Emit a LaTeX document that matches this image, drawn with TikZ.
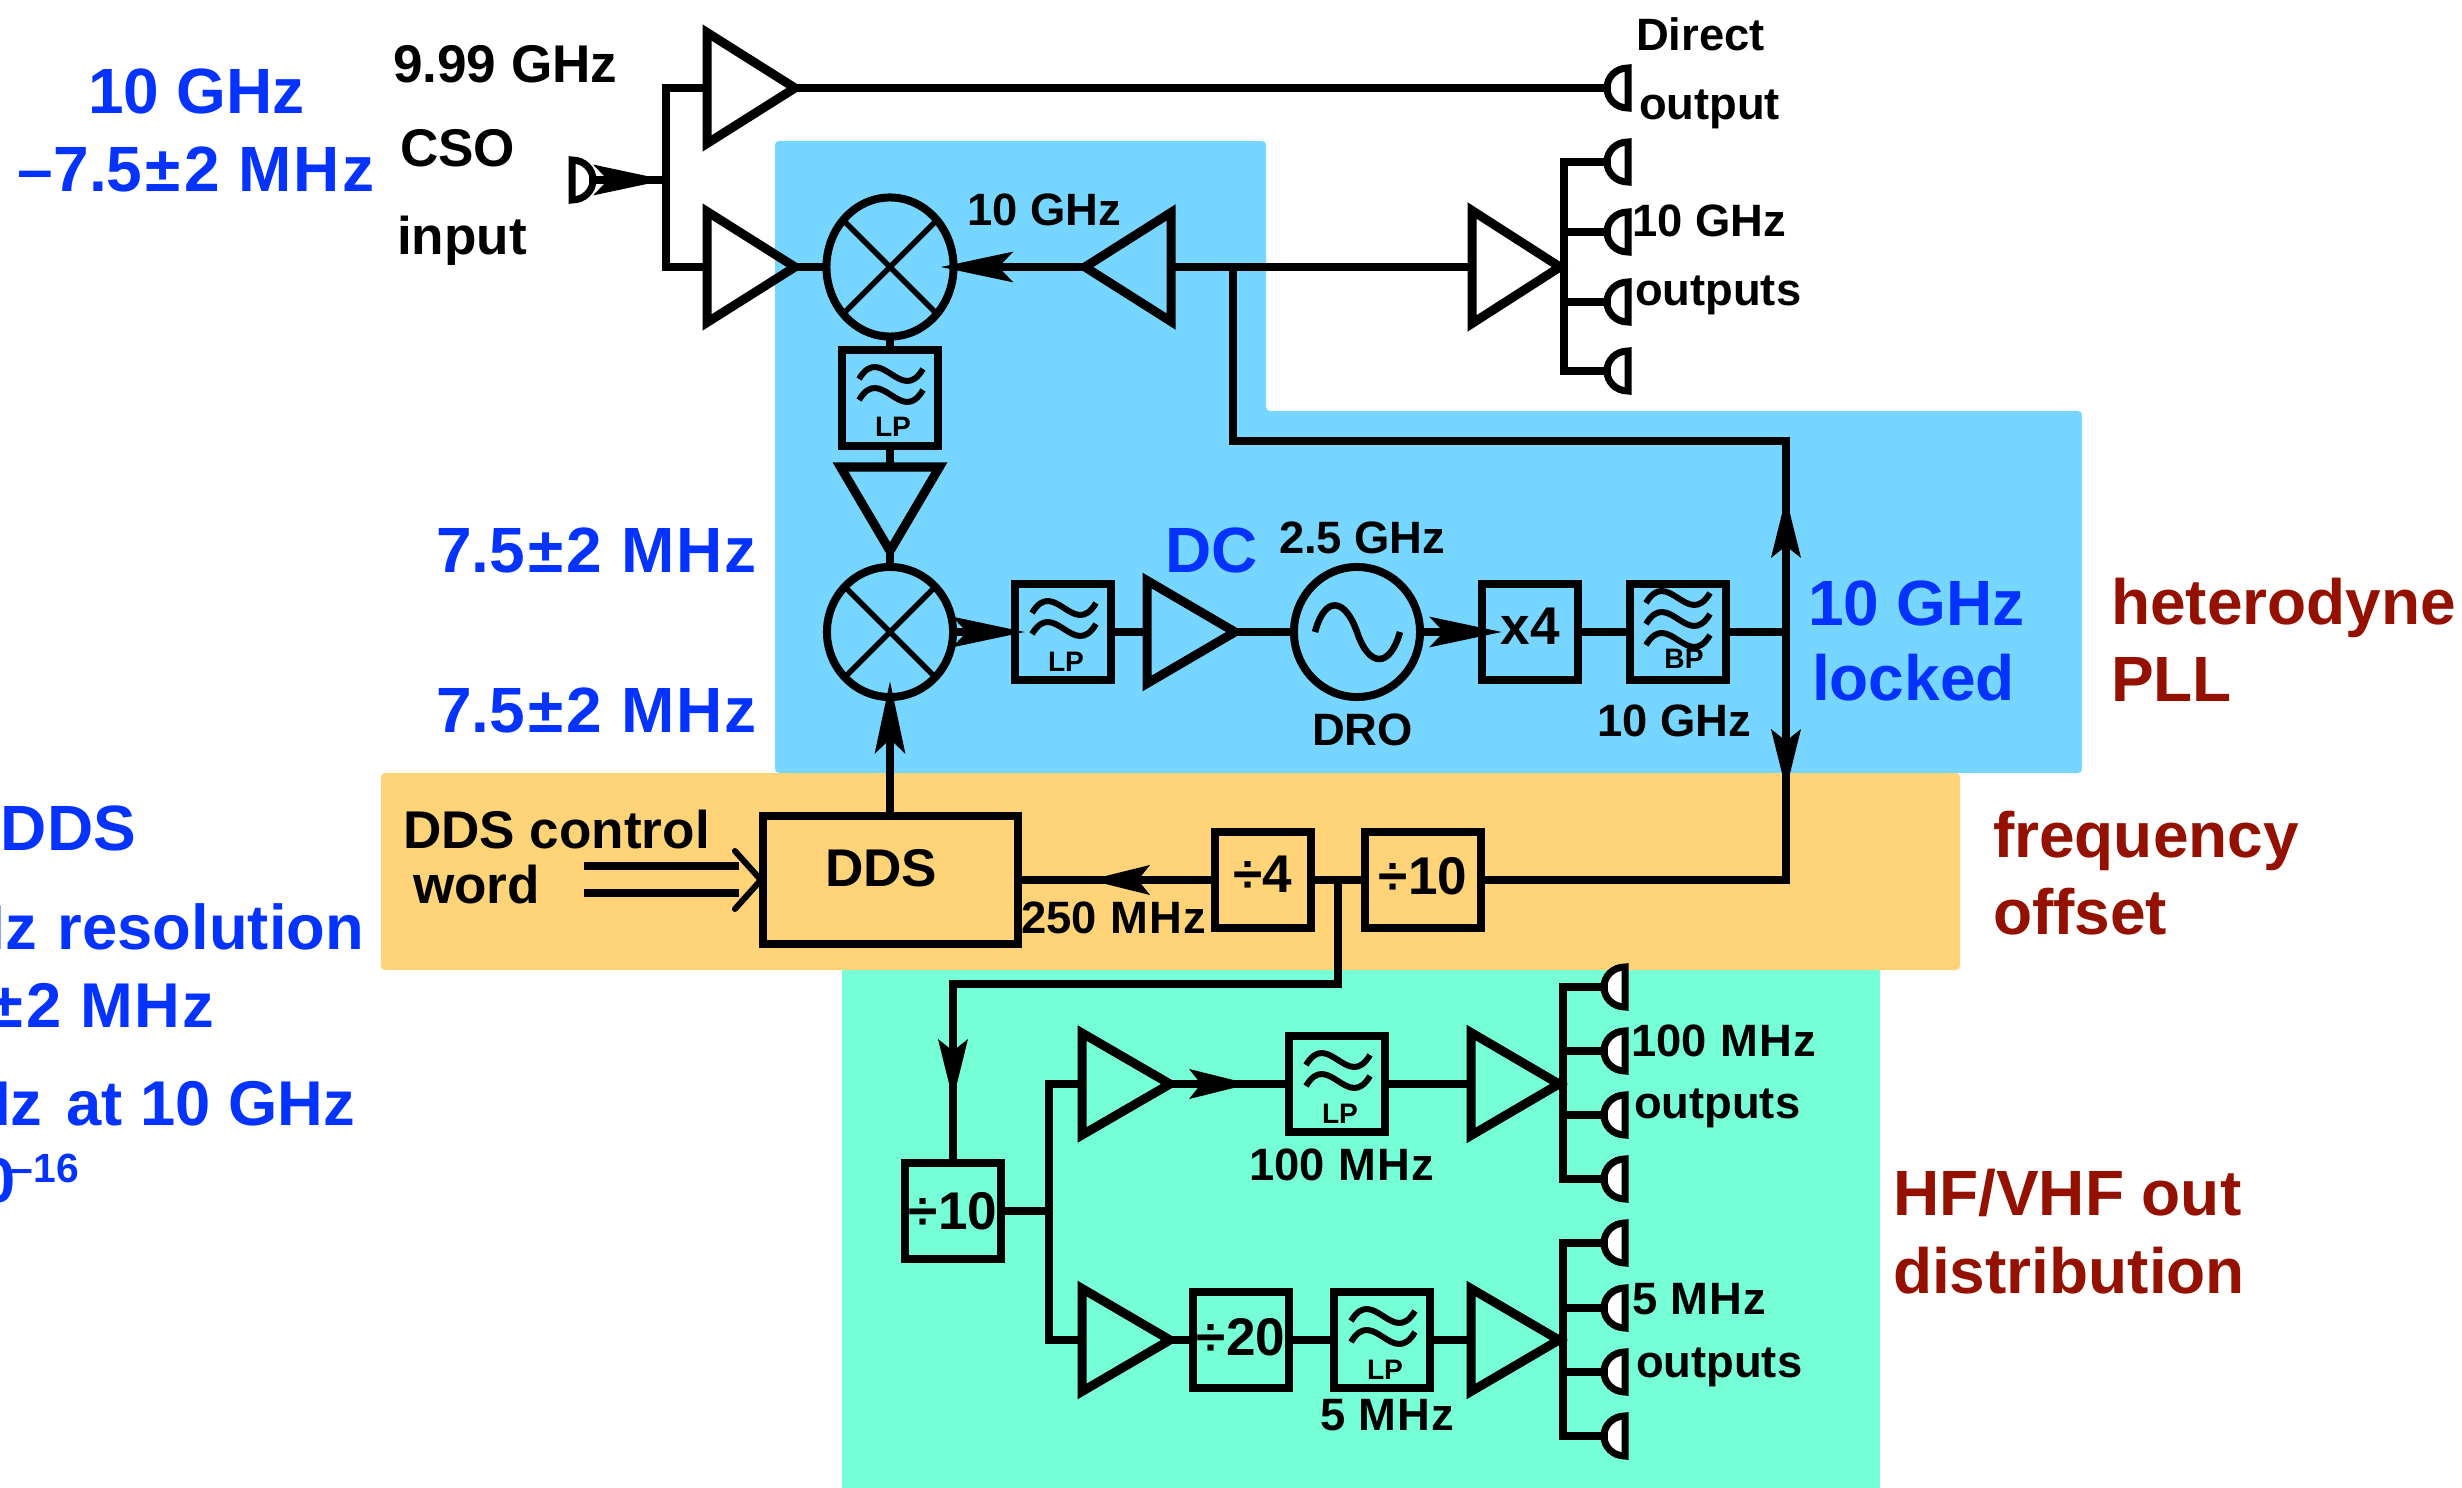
\documentclass[tikz,border=0pt]{standalone}
\usepackage{fontspec}
\setmainfont{Liberation Sans}
\usetikzlibrary{arrows.meta,shapes.geometric,calc}
\definecolor{regblue}{HTML}{76D6FF}
\definecolor{regorange}{HTML}{FFD479}
\definecolor{regteal}{HTML}{76FFD6}
\definecolor{txtblue}{HTML}{0433FF}
\definecolor{txtred}{HTML}{941100}
\newcommand\MHzt{\kern0.02em M\kern0.03em H\kern0.03em z}
\newcommand\plusminus{\kern0.05em±\kern0.05em}
\tikzset{
  x=0.01cm,y=-0.01cm,
  wire/.style={line width=0.075cm,line cap=rect,line join=miter},
  hl/.style={-{Stealth[length=0.72cm,width=0.30cm,inset=0.14cm]},line cap=butt},
  hs/.style={-{Stealth[length=0.60cm,width=0.29cm,inset=0.11cm]},line cap=butt},
  amp/.style n args={2}{draw,line width=0.09cm,isosceles triangle,isosceles triangle stretches,
     inner sep=0pt,outer sep=0pt,minimum width=#2*0.01cm,minimum height=#1*0.01cm,anchor=lower side},
  sbox/.style={draw,line width=0.08cm,rectangle,inner sep=0pt,outer sep=0pt,
     minimum width=0.96cm,minimum height=0.96cm,font=\fontsize{15.1}{18}\selectfont\bfseries},
  mixer/.style={draw,line width=0.08cm,ellipse,inner sep=0pt,outer sep=0pt,
     minimum width=1.26cm,minimum height=1.30cm},
  lab/.style={inner sep=0pt,outer sep=0pt,anchor=base west,font=\fontsize{15.1}{18}\selectfont\bfseries},
  labs/.style={inner sep=0pt,outer sep=0pt,anchor=base west,font=\fontsize{12.9}{15}\selectfont\bfseries},
  labt/.style={inner sep=0pt,outer sep=0pt,anchor=base,font=\fontsize{8}{10}\selectfont\bfseries},
  labb/.style={inner sep=0pt,outer sep=0pt,anchor=base west,text=txtblue,font=\fontsize{18.2}{22}\selectfont\bfseries},
  labc/.style={labb,anchor=base east,font=\fontsize{18}{22}\selectfont\bfseries},
  labr/.style={labb,text=txtred},
  wave/.style={line width=0.06cm,line cap=butt},
  plug/.style={draw=black,fill=white,line width=0.07cm,line join=miter},
}
% connector: flat side at x, round side facing the wire; #4 = 1 wire on the left, -1 on the right
\newcommand\plugat[4]{%
  \begin{scope}[shift={(#2,#3)}]
    \path[plug] (0,-20) .. controls ({-12*#4},-20) and ({-21*#4},-11) .. ({-21*#4},0)
       .. controls ({-21*#4},11) and ({-12*#4},20) .. (0,20) -- cycle;
    \coordinate (#1) at ({-21*#4},0);
  \end{scope}}
\newcommand\waveat[3]{%
  \draw[wave,shift={(#1)}] ({#2-32},{#3+5}) .. controls ({#2-10},{#3-32}) and ({#2+10},{#3+32}) .. ({#2+32},{#3-5});}
\newcommand\lpfilter[3]{%
  \node[sbox] (#1) at (#2,#3) {};
  \waveat{#1}{1}{-24}\waveat{#1}{1}{-3}
  \node[labt] (#1txt) at ($(#1)+(3,39)$) {LP};}
\begin{document}
\begin{tikzpicture}
\useasboundingbox (0,0) rectangle (2462,1488);
% regions
\fill[regteal] (842,960) rectangle (1880,1488);
\fill[regblue,rounded corners=0.04cm] (775,141) -- (1266,141) -- (1266,411) -- (2082,411) -- (2082,773) -- (775,773) -- cycle;
\fill[regorange,rounded corners=0.04cm] (381,773) rectangle (1960,970);

% amplifiers
\node[amp={88}{111}] (a1) at (707,88) {};
\node[amp={88}{111}] (a2) at (707,267) {};
\node[amp={86}{109},shape border rotate=180] (a3) at (1171,267) {};
\node[amp={88}{113}] (a4) at (1472,267) {};
\node[amp={84}{99},shape border rotate=-90] (a5) at (890,467) {};
\node[amp={88}{103}] (a6) at (1147,632) {};
\node[amp={88}{102}] (a7) at (1082,1084) {};
\node[amp={88}{103}] (a8) at (1471,1084) {};
\node[amp={88}{103}] (a9) at (1082,1340) {};
\node[amp={88}{103}] (a10) at (1471,1340) {};

% mixers and oscillator
\node[mixer,minimum width=1.27cm,minimum height=1.39cm] (m1) at (890,267) {};
\node[mixer] (m2) at (890,632) {};
\node[mixer] (dro) at (1357,632) {};
\foreach \m in {m1,m2}{
  \draw[line width=0.055cm] (\m.45) -- (\m.225);
  \draw[line width=0.055cm] (\m.135) -- (\m.315);
}
\draw[wave,line width=0.065cm,shift={(dro)}] (-42,0) .. controls (-32,-37) and (-12,-34) .. (0,0)
  .. controls (12,36) and (33,36) .. (43,0);

% filters and boxes
\lpfilter{lp1}{890}{398}
\lpfilter{lp2}{1063}{632}
\lpfilter{lp3}{1337}{1084}
\lpfilter{lp4}{1382}{1340}
\node[sbox] (bp) at (1678,632) {};
\waveat{bp}{0}{-34}\waveat{bp}{0}{-13}\waveat{bp}{0}{8}
\node[labt] (bptxt) at (1684,669) {BP};
\node[sbox,text depth=0.12cm] (x4) at (1530,632) {x4};
\node[sbox,text depth=0.12cm] (d4) at (1263,880) {÷4};
\node[sbox,minimum width=1.16cm,text depth=0.08cm] (d10) at (1423,880) {÷10};
\node[sbox,minimum height=0.96cm] (d10b) at (953,1211) {÷10};
\node[sbox,text depth=0.06cm] (d20) at (1241,1340) {÷20};
\node[draw,line width=0.08cm,rectangle,inner sep=0pt,outer sep=0pt,minimum width=2.55cm,minimum height=1.28cm] (dds) at (890.5,880) {};
\node[lab] (ddstxt) at (825,886) {DDS};

% connector plugs
\plugat{pin}{572}{180}{-1}
\plugat{pd}{1628}{88}{1}
\plugat{p41}{1628}{162}{1}
\plugat{p42}{1628}{232}{1}
\plugat{p43}{1628}{302}{1}
\plugat{p44}{1628}{371}{1}
\plugat{p81}{1625}{987}{1}
\plugat{p82}{1625}{1051}{1}
\plugat{p83}{1625}{1115}{1}
\plugat{p84}{1625}{1179}{1}
\plugat{p101}{1625}{1243}{1}
\plugat{p102}{1625}{1308}{1}
\plugat{p103}{1625}{1372}{1}
\plugat{p104}{1625}{1436}{1}

% named junctions
\coordinate (jin) at (666,180);
\coordinate (jfb) at (1233,267);
\coordinate (fbc1) at (1233,441);
\coordinate (fbc2) at (1786,441);
\coordinate (fbc3) at (1786,880);
\coordinate (jbp) at (1786,632);
\coordinate (tipup) at (1786,497);
\coordinate (tipdn) at (1786,790);
\coordinate (j10) at (1338,880);
\coordinate (c10a) at (1338,984);
\coordinate (c10b) at (953,984);
\coordinate (tip10) at (953,1100);
\coordinate (tipdds) at (1089,880);
\coordinate (tip7) at (1250,1084);
\coordinate (b4) at (1564,267);
\coordinate (b8) at (1563,1084);
\coordinate (b10) at (1563,1340);
\coordinate (jdiv) at (1049,1211);
\coordinate (cw) at (584,880);

% wires
\draw[wire] (a1.lower side) -- (jin |- a1.lower side) -- (jin |- a2.lower side) -- (a2.lower side);
\draw[wire] (pin) -- (jin);
\draw[wire,hl] (pin) -- (jin);
\draw[wire] (a1.apex) -- (pd);
\draw[wire] (a2.apex) -- (m1.west);
\draw[wire] (a3.lower side) -- (a4.lower side);
\draw[wire,hl,shorten >=-0.13cm] (a3.apex) -- (m1.east);
\draw[wire] (m1.south) -- (lp1.north);
\draw[wire] (lp1.south) -- (a5.lower side);
\draw[wire] (a5.apex) -- (m2.north);
\draw[wire,hl,shorten >=-0.10cm] (m2.east) -- (lp2.west);
\draw[wire] (lp2.east) -- (a6.lower side);
\draw[wire] (a6.apex) -- (dro.west);
\draw[wire,hl,shorten >=-0.20cm] (dro.east) -- (x4.west);
\draw[wire] (x4.east) -- (bp.west);
\draw[wire] (bp.east) -- (jbp);
\draw[wire] (jfb) -- (fbc1) -- (fbc2) -- (fbc3) -- (d10.east);
\draw[wire,hs] (jbp) -- (tipup);
\draw[wire,hs] (jbp) -- (tipdn);
\draw[wire] (d10.west) -- (d4.east);
\draw[wire] (d4.west) -- (dds.east);
\draw[wire,hs] (d4.west) -- (tipdds);
\draw[wire,hl,shorten >=-0.16cm] (dds.north -| m2) -- (m2.south);
\draw[wire] (j10) -- (c10a) -- (c10b) -- (d10b.north);
\draw[wire,hs] (c10b) -- (tip10);
\draw[wire] (d10b.east) -- (jdiv);
\draw[wire] (jdiv |- a7.lower side) -- (a7.lower side);
\draw[wire] (jdiv |- a7.lower side) -- (jdiv |- a9.lower side) -- (a9.lower side);
\draw[wire] (a7.apex) -- (lp3.west);
\draw[wire,hs] (a7.apex) -- (tip7);
\draw[wire] (lp3.east) -- (a8.lower side);
\draw[wire] (a9.apex) -- (d20.west);
\draw[wire] (d20.east) -- (lp4.west);
\draw[wire] (lp4.east) -- (a10.lower side);
% fan-outs
\draw[wire] (a4.apex) -- (b4);
\draw[wire] (b4 |- p41) -- (b4 |- p44);
\foreach \p in {p41,p42,p43,p44} \draw[wire] (b4 |- \p) -- (\p);
\draw[wire] (a8.apex) -- (b8);
\draw[wire] (b8 |- p81) -- (b8 |- p84);
\foreach \p in {p81,p82,p83,p84} \draw[wire] (b8 |- \p) -- (\p);
\draw[wire] (a10.apex) -- (b10);
\draw[wire] (b10 |- p101) -- (b10 |- p104);
\foreach \p in {p101,p102,p103,p104} \draw[wire] (b10 |- \p) -- (\p);
% control word double arrow
\draw[wire,line cap=butt] ($(cw)+(0,-14)$) -- ($(dds.west)+(-24,-14)$);
\draw[wire,line cap=butt] ($(cw)+(0,13)$) -- ($(dds.west)+(-24,13)$);
\draw[line width=0.06cm,line cap=round,line join=round] ($(dds.west)+(-28,-29)$) -- ($(dds.west)+(-2,0)$) -- ($(dds.west)+(-28,29)$);

% black labels
\node[lab] (t1) at (393,83) {9.99 GHz};
\node[lab] (t2) at (400,167) {CSO};
\node[lab] (t3) at (397,255) {input};
\node[labs] (t4) at (1636,51) {Direct};
\node[labs] (t5) at (1639,120) {output};
\node[labs] (t6) at (1632,237) {10 GHz};
\node[labs] (t7) at (1635,306) {outputs};
\node[labs] (t8) at (967,226) {10 GHz};
\node[labs] (t9) at (1279,554) {2.5 GHz};
\node[labs] (t10) at (1312,745) {DRO};
\node[labs] (t11) at (1597,736) {10 GHz};
\node[lab] (t12) at (403,848) {DDS control};
\node[lab] (t13) at (413,903) {word};
\node[labs] (t14) at (1021,933) {250 \MHzt};
\node[labs] (t15) at (1631,1056) {100 \MHzt};
\node[labs] (t16) at (1634,1118) {outputs};
\node[labs] (t17) at (1249,1180) {100 \MHzt};
\node[labs] (t18) at (1632,1314) {5 \MHzt};
\node[labs] (t19) at (1636,1377) {outputs};
\node[labs] (t20) at (1320,1430) {5 \MHzt};

% blue labels
\node[labb] (b1) at (88,114) {10 GHz};
\node[labb] (b2) at (18,192) {–7.5\plusminus 2 \MHzt};
\node[labb] (b3) at (436,572) {7.5\plusminus 2 \MHzt};
\node[labb] (b4t) at (436,732) {7.5\plusminus 2 \MHzt};
\node[labb] (b5) at (1165,572) {DC};
\node[labb] (b6) at (1808,625) {10 GHz};
\node[labb] (b7) at (1812,700) {locked};
\node[labb] (b8t) at (1,850) {DDS};
\node[labc] (b9) at (364,949) {Hz\kern0.05em{} resolution};
\node[labc] (b10t) at (214,1027) {\plusminus 2 \MHzt};
\node[labc] (b11) at (355,1125) {Hz\kern0.1em{} at 10 GHz};
\node[labc] (b12) at (16,1202) {0};
\node[labb,font=\fontsize{11.6}{14}\selectfont\bfseries] (b13) at (11,1182) {–16};

% red labels
\node[labr] (r1) at (2111,624) {heterodyne};
\node[labr] (r2) at (2111,701) {PLL};
\node[labr] (r3) at (1993,857) {frequency};
\node[labr] (r4) at (1993,934) {offset};
\node[labr] (r5) at (1893,1215) {HF/VHF out};
\node[labr] (r6) at (1893,1293) {distribution};
\end{tikzpicture}
\end{document}
